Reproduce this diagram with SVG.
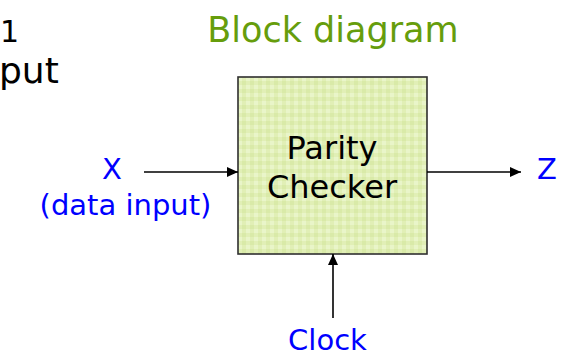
<svg xmlns="http://www.w3.org/2000/svg" width="566" height="356" viewBox="0 0 566 356">
<style>
  .t { font-family: "DejaVu Sans", Verdana, sans-serif; }
  .blue { fill: #0000ff; font-size: 29px; }
  .conn { stroke: #000; stroke-width: 1.6; fill: none; marker-end: url(#ah); }
</style>
<defs>
  <pattern id="chk" x="238" y="77" width="8" height="8" patternUnits="userSpaceOnUse">
    <rect width="8" height="8" fill="#e1efb6"/>
    <rect width="4" height="4" fill="#e9f5c9"/>
    <rect x="4" y="4" width="4" height="4" fill="#d9eaa8"/>
  </pattern>
  <marker id="ah" viewBox="0 0 11 10" refX="11" refY="5" markerWidth="11" markerHeight="10" markerUnits="userSpaceOnUse" orient="auto">
    <path d="M0,0 L11,5 L0,10 z" fill="#000"/>
  </marker>
</defs>
<rect width="566" height="356" fill="#fff"/>
<text class="t" x="0" y="42" font-size="30" fill="#000">1</text>
<text class="t" x="-1" y="83" font-size="36" fill="#000">put</text>
<text class="t" x="333" y="42" text-anchor="middle" font-size="35" fill="#669d0c">Block diagram</text>
<g id="checker">
  <rect x="238" y="77" width="189" height="177" fill="url(#chk)" stroke="#2f2f2f" stroke-width="1.6"/>
  <text class="t" x="332" y="159" text-anchor="middle" font-size="32" fill="#000">Parity</text>
  <text class="t" x="332" y="198" text-anchor="middle" font-size="32" fill="#000">Checker</text>
</g>
<g id="x-in">
  <text class="t blue" x="112" y="179" text-anchor="middle">X</text>
  <text class="t blue" x="125.5" y="215" text-anchor="middle">(data input)</text>
</g>
<g id="z-out">
  <text class="t blue" x="547" y="179" text-anchor="middle">Z</text>
</g>
<g id="clock">
  <text class="t blue" x="327.5" y="350" text-anchor="middle" font-size="30">Clock</text>
</g>
<g id="connectors">
  <line class="conn" x1="144" y1="172" x2="238" y2="172"/>
  <line class="conn" x1="427" y1="172" x2="521" y2="172"/>
  <line class="conn" x1="333" y1="318" x2="333" y2="254"/>
</g>
</svg>
